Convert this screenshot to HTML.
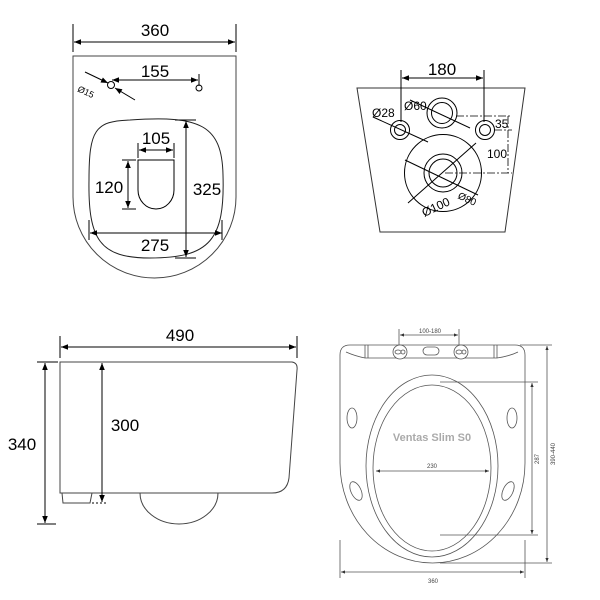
<!DOCTYPE html>
<html><head><meta charset="utf-8"><style>
html,body{margin:0;padding:0;background:#fff;}
svg{display:block;font-family:"Liberation Sans",sans-serif;}
</style></head><body>
<svg width="600" height="600" viewBox="0 0 600 600" xmlns="http://www.w3.org/2000/svg">
<defs>
<marker id="a" viewBox="0 0 10 10" refX="10" refY="5" markerWidth="9" markerHeight="7" orient="auto-start-reverse" markerUnits="userSpaceOnUse"><path d="M0,1 L10,5 L0,9 z" fill="#000"/></marker>
<marker id="s" viewBox="0 0 10 10" refX="10" refY="5" markerWidth="5" markerHeight="4" orient="auto-start-reverse" markerUnits="userSpaceOnUse"><path d="M0,1 L10,5 L0,9 z" fill="#333"/></marker>
</defs>
<g stroke="#000" fill="none" stroke-width="1">
<path d="M73,56 L236,56 L236,197 A81.5,81 0 0 1 73,197 Z" stroke="#444"/>
<line x1="73" y1="24" x2="73" y2="52"/><line x1="236" y1="24" x2="236" y2="52"/>
<line x1="74" y1="42" x2="235" y2="42" marker-start="url(#a)" marker-end="url(#a)"/>
<line x1="112" y1="80" x2="198" y2="80" marker-start="url(#a)" marker-end="url(#a)"/>
<line x1="199" y1="74" x2="199" y2="86"/>
<circle cx="111" cy="85" r="3.5"/><circle cx="199" cy="88" r="3"/>
<line x1="85" y1="72" x2="108" y2="83" marker-end="url(#a)"/>
<line x1="135" y1="100" x2="115" y2="88" marker-end="url(#a)"/>
<path d="M130,120 C200,115 222,125 223,175 C225,240 210,258 150,258 C100,258 88,240 89,180 C89,130 95,121 130,120 Z" stroke="#222"/>
<line x1="175" y1="120" x2="196" y2="120"/><line x1="175" y1="258" x2="196" y2="258"/>
<line x1="186" y1="121" x2="186" y2="257" marker-start="url(#a)" marker-end="url(#a)"/>
<line x1="90" y1="233" x2="222" y2="233" marker-start="url(#a)" marker-end="url(#a)"/>
<line x1="89" y1="220" x2="89" y2="240"/><line x1="222" y1="220" x2="222" y2="240"/>
<path d="M138,160 L174,160 L174,190 A18,19 0 0 1 138,190 Z"/>
<line x1="138" y1="143" x2="138" y2="158"/><line x1="174" y1="143" x2="174" y2="158"/>
<line x1="139" y1="150" x2="173" y2="150" marker-start="url(#a)" marker-end="url(#a)"/>
<line x1="122" y1="160" x2="136" y2="160"/><line x1="122" y1="209" x2="136" y2="209"/>
<line x1="128" y1="161" x2="128" y2="208" marker-start="url(#a)" marker-end="url(#a)"/>

<path d="M357,88 L525,88 L505,232 L380,232 Z" stroke="#333"/>
<line x1="401" y1="70" x2="401" y2="122"/><line x1="484" y1="70" x2="484" y2="122"/>
<line x1="402" y1="78" x2="483" y2="78" marker-start="url(#a)" marker-end="url(#a)"/>
<circle cx="400" cy="130" r="9.5"/><circle cx="400" cy="130" r="5.5"/>
<circle cx="485" cy="130" r="9.5"/><circle cx="485" cy="130" r="5.5"/>
<circle cx="442" cy="113" r="15"/><circle cx="442" cy="113" r="10.5"/>
<circle cx="443" cy="173" r="38.5"/><circle cx="443" cy="173" r="19"/><circle cx="443" cy="173" r="14"/>
<line x1="373" y1="117" x2="428" y2="142"/>
<line x1="410" y1="100" x2="470" y2="128"/>
<line x1="405" y1="160" x2="478" y2="195"/>
<line x1="408" y1="203" x2="476" y2="143"/>
<g stroke-dasharray="8,2,2,2" stroke-width="0.8">
<line x1="456" y1="116" x2="512" y2="116"/>
<line x1="494" y1="130" x2="512" y2="130"/>
<line x1="445" y1="173" x2="512" y2="173"/>
<line x1="508" y1="116" x2="508" y2="173"/>
</g>

<line x1="60" y1="336" x2="60" y2="358"/><line x1="297" y1="336" x2="297" y2="358"/>
<line x1="61" y1="347" x2="296" y2="347" marker-start="url(#a)" marker-end="url(#a)"/>
<path d="M60,362 L292,362 Q298,363 297,370 L289,478 Q287,493 272,493 L60,493 Z" stroke="#444"/>
<path d="M62,493 L63,503 L90,503 L92,493" stroke="#444"/>
<path d="M140,493 A39,31 0 0 0 218,493" stroke="#444"/>
<line x1="37" y1="362" x2="58" y2="362"/><line x1="37" y1="524" x2="56" y2="524"/>
<line x1="45" y1="363" x2="45" y2="523" marker-start="url(#a)" marker-end="url(#a)"/>
<line x1="102" y1="363" x2="102" y2="502" marker-start="url(#a)" marker-end="url(#a)"/>
<line x1="92" y1="503" x2="108" y2="503" stroke-dasharray="2,2"/>

<g stroke="#555" stroke-width="0.8">
<path d="M350,345 L515,345 Q525,345 525,355 L525,463 A92.5,100 0 0 1 340,463 L340,355 Q340,345 350,345 Z"/>
<path d="M346,352 Q355,356 365,358 L497,358 Q510,356 518,352"/>
<line x1="365" y1="345" x2="365" y2="358"/><line x1="368" y1="345" x2="368" y2="358"/>
<line x1="494" y1="345" x2="494" y2="358"/><line x1="497" y1="345" x2="497" y2="358"/>
<circle cx="400" cy="352" r="7" fill="#fff"/><circle cx="461" cy="352" r="7" fill="#fff"/>
<ellipse cx="398" cy="352" rx="3" ry="2"/><ellipse cx="403" cy="352" rx="2" ry="2"/>
<ellipse cx="459" cy="352" rx="3" ry="2"/><ellipse cx="464" cy="352" rx="2" ry="2"/>
<rect x="423" y="347" width="16" height="8" rx="4"/>
<ellipse cx="432" cy="466" rx="66" ry="91"/>
<ellipse cx="432" cy="468" rx="59" ry="83"/>
<ellipse cx="352" cy="418" rx="5" ry="10"/><ellipse cx="512" cy="418" rx="5" ry="10"/>
<ellipse cx="356" cy="491" rx="5" ry="10" transform="rotate(-25 356 491)"/>
<ellipse cx="508" cy="491" rx="5" ry="10" transform="rotate(25 508 491)"/>
<line x1="399" y1="329" x2="399" y2="345"/><line x1="459" y1="329" x2="459" y2="345"/>
<line x1="400" y1="335" x2="458" y2="335" marker-start="url(#s)" marker-end="url(#s)"/>
<line x1="376" y1="471" x2="489" y2="471" marker-start="url(#s)" marker-end="url(#s)"/>
<line x1="440" y1="382" x2="538" y2="382"/><line x1="440" y1="535" x2="538" y2="535"/>
<line x1="532" y1="383" x2="532" y2="534" marker-start="url(#s)" marker-end="url(#s)"/>
<line x1="520" y1="345" x2="552" y2="345"/><line x1="440" y1="563" x2="552" y2="563"/>
<line x1="547" y1="346" x2="547" y2="562" marker-start="url(#s)" marker-end="url(#s)"/>
<line x1="340" y1="540" x2="340" y2="578"/><line x1="525" y1="540" x2="525" y2="578"/>
<line x1="341" y1="572" x2="524" y2="572" marker-start="url(#s)" marker-end="url(#s)"/>
</g>
</g>
<g fill="#000" font-size="17" text-anchor="middle">
<text x="155" y="36">360</text>
<text x="155" y="77">155</text>
<text x="156" y="144">105</text>
<text x="109" y="193">120</text>
<text x="207" y="195">325</text>
<text x="155" y="251">275</text>
<text x="442" y="75">180</text>
<text x="180" y="341">490</text>
<text x="22" y="450">340</text>
<text x="125" y="431">300</text>
</g>
<g fill="#000" font-size="12">
<text x="78" y="94" font-size="9" transform="rotate(25 84 90)">Ø15</text>
<text x="372" y="117">Ø28</text>
<text x="404" y="110">Ø60</text>
<text x="495" y="128">35</text>
<text x="487" y="158">100</text>
<text x="422" y="213" transform="rotate(-25 432 210)">Ø100</text>
<text x="458" y="200" font-size="10" transform="rotate(25 462 197)">Ø80</text>
</g>
<g font-size="6" fill="#444" text-anchor="middle">
<text x="430" y="333">100-180</text>
<text x="432" y="468">230</text>
<text x="433" y="583">360</text>
<text x="0" y="0" transform="translate(539 459) rotate(-90)">287</text>
<text x="0" y="0" transform="translate(555 454) rotate(-90)">390-440</text>
</g>
<text x="432" y="441" font-size="11" font-weight="bold" fill="#aaa" text-anchor="middle">Ventas Slim S0</text>
</svg>
</body></html>
